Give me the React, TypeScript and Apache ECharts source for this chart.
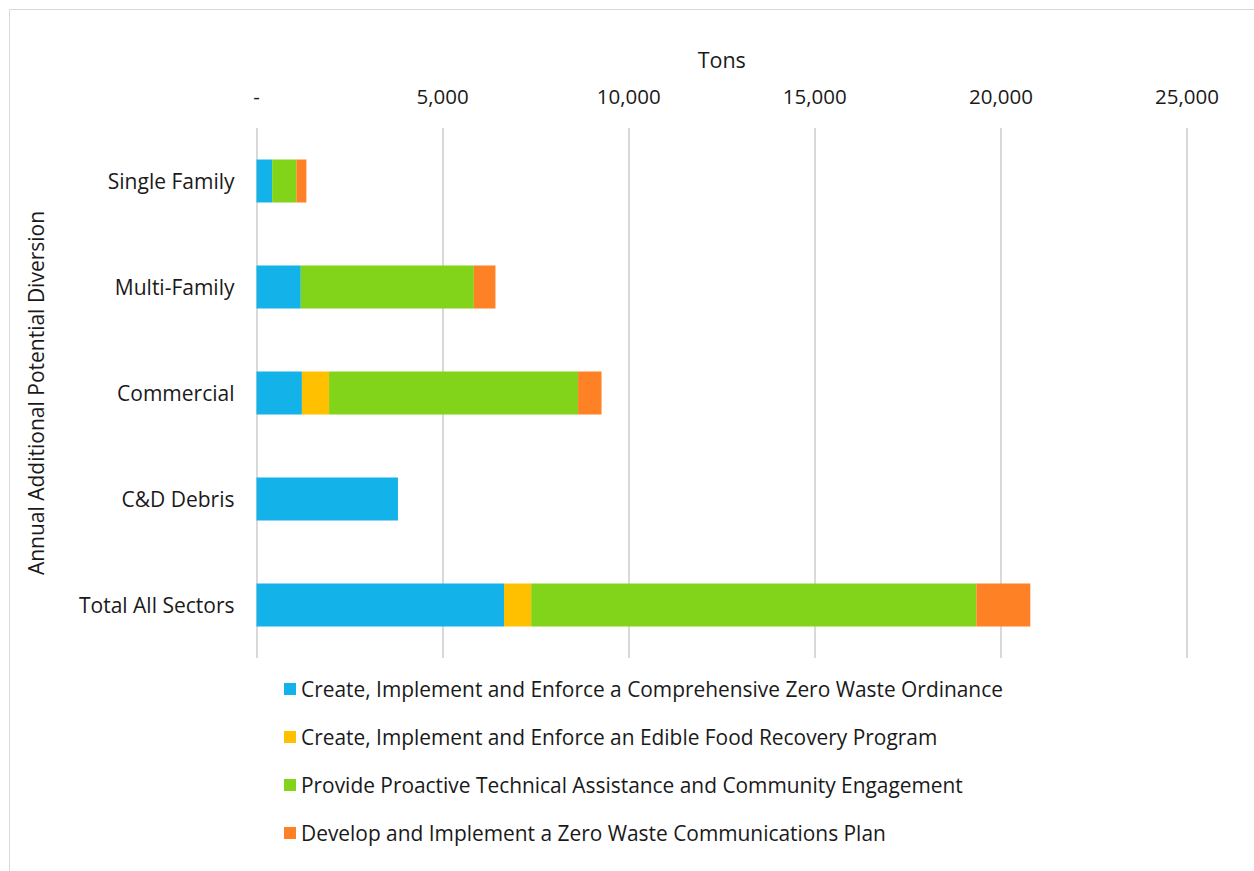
import React, { useEffect, useRef } from "react";
import * as echarts from "echarts";

const categories = ["Single Family", "Multi-Family", "Commercial", "C&D Debris", "Total All Sectors"];
const seriesNames = [
  "Create, Implement and Enforce a Comprehensive Zero Waste Ordinance",
  "Create, Implement and Enforce an Edible Food Recovery Program",
  "Provide Proactive Technical Assistance and Community Engagement",
  "Develop and Implement a Zero Waste Communications Plan",
];
const ordinance = [420, 1190, 1220, 3800, 6650];
const foodRecovery = [0, 0, 730, 0, 730];
const technicalAssistance = [650, 4650, 6690, 0, 11960];
const communications = [270, 580, 630, 0, 1450];
const colors = ["#13B2E8", "#FFC000", "#81D41A", "#FF8125"];

const FONT = "Open Sans";
const TEXT = "#1a1a1a";

export default function App() {
  const ref = useRef<HTMLDivElement>(null);
  useEffect(() => {
    const chart = echarts.init(ref.current!, null, { renderer: "svg" });
    const values = [ordinance, foodRecovery, technicalAssistance, communications];
    chart.setOption({
      animation: false,
      textStyle: { fontFamily: FONT, color: TEXT },
      graphic: [
        {
          type: "rect",
          shape: { x: 9.5, y: 9.5, width: 1400, height: 1000 },
          style: { fill: "none", stroke: "#d9d9d9", lineWidth: 1 },
          silent: true,
        },
      ],
      grid: { left: 256.5, right: 67, top: 128, bottom: 213, containLabel: false },
      legend: {
        orient: "vertical",
        left: 279,
        top: 672,
        icon: "rect",
        itemWidth: 12,
        itemHeight: 12,
        itemGap: 24,
        data: seriesNames,
        textStyle: { fontFamily: FONT, fontSize: 20.9, color: TEXT, lineHeight: 24 },
      },
      xAxis: {
        type: "value",
        position: "top",
        min: 0,
        max: 25000,
        interval: 5000,
        name: "Tons",
        nameLocation: "middle",
        nameGap: 58,
        nameTextStyle: { fontFamily: FONT, fontSize: 21.5, color: TEXT },
        axisLine: { show: false },
        axisTick: { show: false },
        axisLabel: {
          fontFamily: FONT,
          fontSize: 20.5,
          color: TEXT,
          margin: 22,
          formatter: (v: number) => (v === 0 ? "-" : v.toLocaleString("en-US")),
        },
        splitLine: { lineStyle: { color: "#d9d9d9", width: 2 } },
      },
      yAxis: {
        type: "category",
        inverse: true,
        data: categories,
        name: "Annual Additional Potential Diversion",
        nameLocation: "middle",
        nameGap: 210,
        nameRotate: 90,
        nameTextStyle: { fontFamily: FONT, fontSize: 21, color: TEXT },
        axisLine: { show: false },
        axisTick: { show: false },
        axisLabel: { fontFamily: FONT, fontSize: 21, color: TEXT, margin: 22 },
      },
      series: seriesNames.map((name, i) => ({
        name,
        type: "bar",
        stack: "total",
        barWidth: 43,
        data: values[i],
        itemStyle: { color: colors[i] },
      })),
    });
    return () => chart.dispose();
  }, []);
  return (
    <div
      ref={ref}
      style={{ position: "absolute", left: 0, top: 0, width: 1254, height: 871, background: "#fff" }}
    />
  );
}
